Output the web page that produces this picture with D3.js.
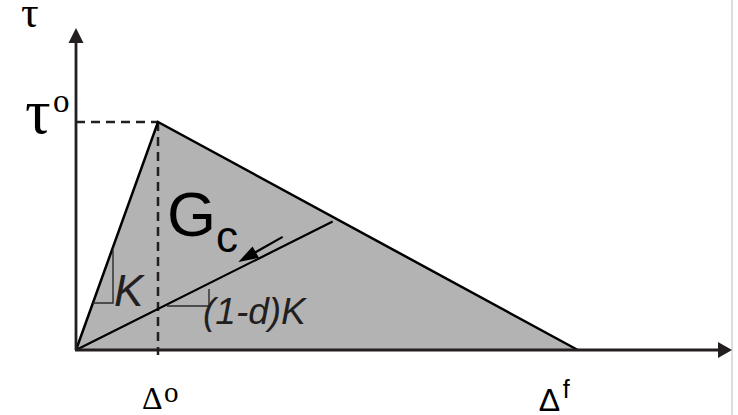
<!DOCTYPE html>
<html>
<head>
<meta charset="utf-8">
<script src="https://cdn.jsdelivr.net/npm/d3@7"></script>
<style>
  html, body { margin: 0; padding: 0; background: #fff; }
  svg { display: block; }
</style>
</head>
<body>
<svg id="chart" width="738" height="415"></svg>
<script>
// Bilinear traction–separation law (normalised units: delta0 = 1, tau0 = 1)
const delta0 = 1;          // separation at damage onset
const deltaF = 6.12;       // separation at complete failure
const tau0 = 1;            // interface strength
const damage = 0.82;       // current damage variable d
const unloadEnd = 3.13;    // separation where the unloading branch starts
const axisMax = { x: 8, y: 1.412 };

// outline of the dissipated energy triangle
const envelope = [[0, 0], [delta0, tau0], [deltaF, 0]];
// secant unloading branch with stiffness (1-d)K
const unloadLine = [[0, 0], [unloadEnd, (1 - damage) * (tau0 / delta0) * unloadEnd]];
// Gc arrow pointing back along the unloading branch
const gcArrow = [[2.52, 0.496], [1.98, 0.386]];

// tick labels
const xTickLabels = [
  { value: delta0, base: "Δ", sup: "o" },
  { value: deltaF, base: "Δ", sup: "f" }
];
const yTickLabels = [{ value: tau0, base: "τ", sup: "o" }];

const ink = "#231f20";
const svg = d3.select("#chart");

const x = d3.scaleLinear().domain([0, axisMax.x]).range([76, 732]);
const y = d3.scaleLinear().domain([0, axisMax.y]).range([350, 28]);
const line = d3.line().x(d => x(d[0])).y(d => y(d[1]));

// thin frame edge on the right
svg.append("rect").attr("x", 731).attr("y", 0).attr("width", 2).attr("height", 415)
  .attr("fill", "#dcdcdc");

// shaded area under the envelope
svg.append("path")
  .attr("d", line(envelope) + "Z")
  .attr("fill", "#b3b3b3")
  .attr("stroke", "none");

// dashed guides to the peak
svg.append("line")
  .attr("x1", x(0)).attr("y1", y(tau0)).attr("x2", x(delta0)).attr("y2", y(tau0))
  .attr("stroke", ink).attr("stroke-width", 2.5).attr("stroke-dasharray", "9,6");
svg.append("line")
  .attr("x1", x(delta0)).attr("y1", y(tau0)).attr("x2", x(delta0)).attr("y2", y(0) + 5)
  .attr("stroke", ink).attr("stroke-width", 2.5).attr("stroke-dasharray", "9,6");

// envelope edges
svg.append("path")
  .attr("d", line(envelope))
  .attr("fill", "none").attr("stroke", "#000").attr("stroke-width", 2.5)
  .attr("stroke-linejoin", "miter");

// unloading branch
svg.append("path")
  .attr("d", line(unloadLine))
  .attr("fill", "none").attr("stroke", "#000").attr("stroke-width", 2.2);

// axes with arrowheads
const arrowHead = (tip, dir, len, half) => {
  const [tx, ty] = tip;
  const [dx, dy] = dir;
  const bx = tx - dx * len, by = ty - dy * len;
  const px = -dy * half, py = dx * half;
  return `M${tx},${ty}L${bx + px},${by + py}L${bx - px},${by - py}Z`;
};

svg.append("line")
  .attr("x1", x(0)).attr("y1", y(0)).attr("x2", x(0)).attr("y2", y(axisMax.y) + 12)
  .attr("stroke", ink).attr("stroke-width", 2.8);
svg.append("path").attr("d", arrowHead([x(0), y(axisMax.y)], [0, -1], 15, 7.5)).attr("fill", ink);

svg.append("line")
  .attr("x1", x(0) - 1).attr("y1", y(0)).attr("x2", x(axisMax.x) - 12).attr("y2", y(0))
  .attr("stroke", ink).attr("stroke-width", 2.8);
svg.append("path").attr("d", arrowHead([x(axisMax.x), y(0)], [1, 0], 14, 8)).attr("fill", ink);

// Gc arrow
{
  const [a, b] = gcArrow.map(p => [x(p[0]), y(p[1])]);
  const dx = b[0] - a[0], dy = b[1] - a[1];
  const L = Math.hypot(dx, dy);
  const ux = dx / L, uy = dy / L;
  svg.append("line")
    .attr("x1", a[0]).attr("y1", a[1]).attr("x2", b[0] - ux * 14).attr("y2", b[1] - uy * 14)
    .attr("stroke", "#000").attr("stroke-width", 2.2);
  svg.append("path").attr("d", arrowHead(b, [ux, uy], 20, 6.5)).attr("fill", "#000");
}

// slope markers
const slopeMark = (pts) => svg.append("path")
  .attr("d", d3.line()(pts))
  .attr("fill", "none").attr("stroke", "#2b2b2b").attr("stroke-width", 1.4);
slopeMark([[93, 303], [113, 303], [113, 250]]);
slopeMark([[167, 306], [209, 306], [209, 289]]);

// labels
const sans = "'Liberation Sans', Arial, sans-serif";
const serif = "'Liberation Serif', 'Times New Roman', serif";

svg.append("text").attr("x", 167).attr("y", 236)
  .attr("font-family", sans).attr("font-size", 63).attr("fill", "#000").text("G");
svg.append("text").attr("x", 216).attr("y", 252)
  .attr("font-family", sans).attr("font-size", 44).attr("fill", "#000").text("c");

svg.append("text").attr("x", 114).attr("y", 306)
  .attr("font-family", sans).attr("font-style", "italic").attr("font-size", 44)
  .attr("fill", ink).text("K");
svg.append("text").attr("x", 203).attr("y", 324)
  .attr("font-family", sans).attr("font-style", "italic").attr("font-size", 37)
  .attr("fill", ink).text("(1-d)K");

// y-axis title
svg.append("text").attr("x", 21).attr("y", 27)
  .attr("font-family", serif).attr("font-size", 44).attr("fill", "#000").text("τ");

// y tick label
yTickLabels.forEach(t => {
  const g = svg.append("g");
  g.append("text").attr("x", 25).attr("y", y(t.value) + 11)
    .attr("font-family", serif).attr("font-size", 64).attr("fill", "#000").text(t.base);
  g.append("text").attr("x", 53).attr("y", y(t.value) - 10)
    .attr("font-family", serif).attr("font-size", 33).attr("fill", "#000").text(t.sup);
});

// x tick labels
{
  const t0 = xTickLabels[0];
  svg.append("text").attr("x", x(t0.value) - 16).attr("y", 409)
    .attr("font-family", serif).attr("font-size", 32).attr("fill", "#000").text(t0.base);
  svg.append("text").attr("x", x(t0.value) + 6).attr("y", 402)
    .attr("font-family", serif).attr("font-size", 29).attr("fill", "#000").text(t0.sup);

  const t1 = xTickLabels[1];
  svg.append("text").attr("x", x(t1.value) - 39).attr("y", 411)
    .attr("font-family", sans).attr("font-size", 32).attr("fill", "#000").text(t1.base);
  svg.append("text").attr("x", x(t1.value) - 15).attr("y", 398)
    .attr("font-family", sans).attr("font-size", 25).attr("fill", "#000").text(t1.sup);
}
</script>
</body>
</html>
